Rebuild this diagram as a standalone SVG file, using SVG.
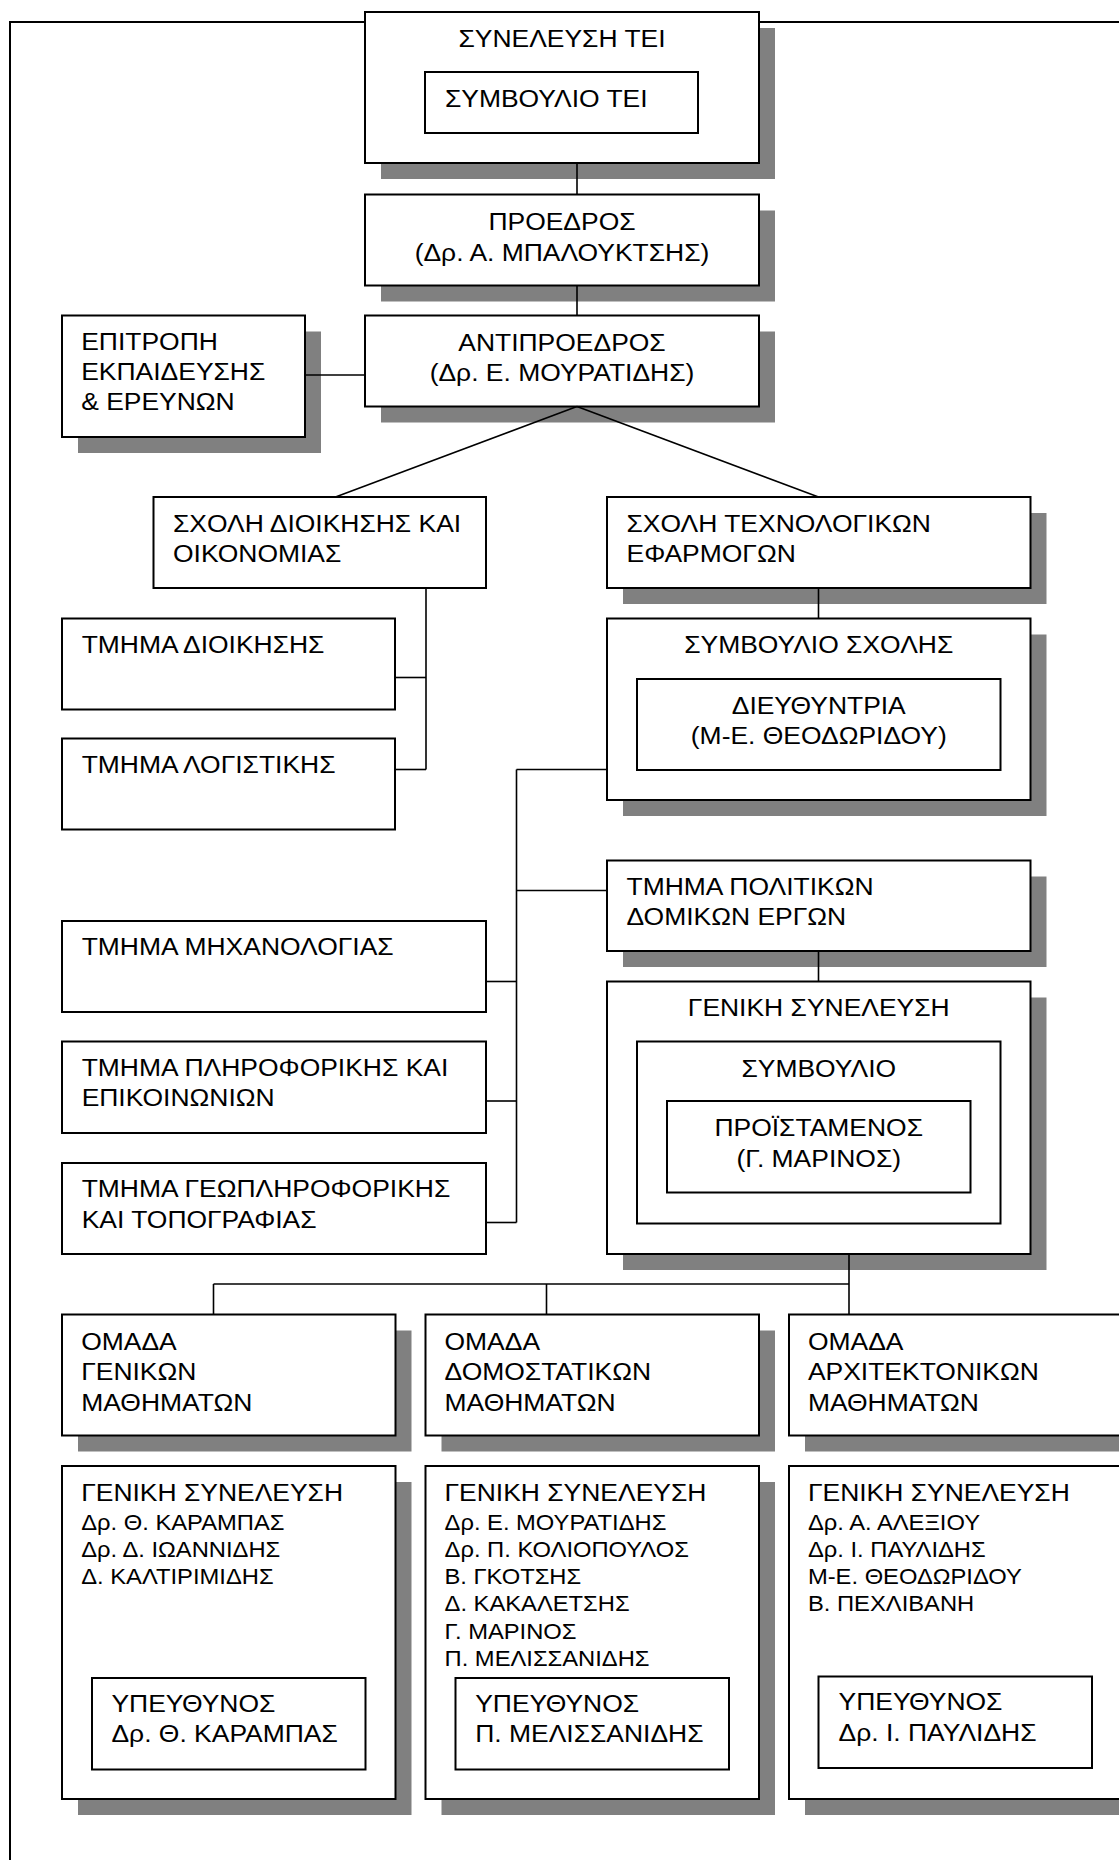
<svg xmlns="http://www.w3.org/2000/svg" width="1119" height="1860" viewBox="0 0 1119 1860">
<style>
.b{fill:#fff;stroke:#000;stroke-width:2}
.s{fill:#808080}
.t{font-family:"Liberation Sans",Arial,sans-serif;font-size:24.5px;fill:#000}
.n{font-family:"Liberation Sans",Arial,sans-serif;font-size:22px;fill:#000}
.c{text-anchor:middle}
#connectors line{stroke:#000;stroke-width:1.6}
</style>
<rect x="0" y="0" width="1119" height="1860" fill="#fff"/>
<rect id="frame" x="10" y="22" width="1200" height="1900" fill="none" stroke="#000" stroke-width="2"/>

<g id="synelefsi-tei">
<rect class="s" x="381" y="28" width="394" height="151"/>
<rect class="b" x="365" y="12" width="394" height="151"/>
<rect class="b" x="425" y="72" width="273" height="61"/>
<g transform="scale(1.08 1)">
<text class="t c" x="520.37" y="47">ΣΥΝΕΛΕΥΣΗ ΤΕΙ</text>
<text class="t" x="412" y="107.5">ΣΥΜΒΟΥΛΙΟ ΤΕΙ</text>
</g>
</g>

<g id="proedros">
<rect class="s" x="381" y="210.5" width="394" height="91"/>
<rect class="b" x="365" y="194.5" width="394" height="91"/>
<g transform="scale(1.08 1)">
<text class="t c" x="520.37" y="230">ΠΡΟΕΔΡΟΣ</text>
<text class="t c" x="520.37" y="261">(Δρ. Α. ΜΠΑΛΟΥΚΤΣΗΣ)</text>
</g>
</g>

<g id="antiproedros">
<rect class="s" x="381" y="331.5" width="394" height="91"/>
<rect class="b" x="365" y="315.5" width="394" height="91"/>
<g transform="scale(1.08 1)">
<text class="t c" x="520.37" y="351">ΑΝΤΙΠΡΟΕΔΡΟΣ</text>
<text class="t c" x="520.37" y="381.5">(Δρ. Ε. ΜΟΥΡΑΤΙΔΗΣ)</text>
</g>
</g>

<g id="epitropi">
<rect class="s" x="78" y="331.5" width="243" height="121.5"/>
<rect class="b" x="62" y="315.5" width="243" height="121.5"/>
<g transform="scale(1.08 1)">
<text class="t" x="75.2" y="350.5">ΕΠΙΤΡΟΠΗ</text>
<text class="t" x="75.2" y="380.5">ΕΚΠΑΙΔΕΥΣΗΣ</text>
<text class="t" x="75.2" y="410.5">&amp; ΕΡΕΥΝΩΝ</text>
</g>
</g>

<g id="sxoli-dioikisis">
<rect class="b" x="153.5" y="497" width="332.5" height="91"/>
<g transform="scale(1.08 1)">
<text class="t" x="160.2" y="532">ΣΧΟΛΗ ΔΙΟΙΚΗΣΗΣ ΚΑΙ</text>
<text class="t" x="160.2" y="562.5">ΟΙΚΟΝΟΜΙΑΣ</text>
</g>
</g>

<g id="sxoli-texnologikon">
<rect class="s" x="623" y="513" width="423.5" height="91"/>
<rect class="b" x="607" y="497" width="423.5" height="91"/>
<g transform="scale(1.08 1)">
<text class="t" x="580.1" y="532">ΣΧΟΛΗ ΤΕΧΝΟΛΟΓΙΚΩΝ</text>
<text class="t" x="580.1" y="562.5">ΕΦΑΡΜΟΓΩΝ</text>
</g>
</g>

<g id="tmima-dioikisis">
<rect class="b" x="62" y="618.5" width="333" height="91"/>
<g transform="scale(1.08 1)">
<text class="t" x="75.6" y="653.5">ΤΜΗΜΑ ΔΙΟΙΚΗΣΗΣ</text>
</g>
</g>

<g id="tmima-logistikis">
<rect class="b" x="62" y="738.5" width="333" height="91"/>
<g transform="scale(1.08 1)">
<text class="t" x="75.6" y="773.5">ΤΜΗΜΑ ΛΟΓΙΣΤΙΚΗΣ</text>
</g>
</g>

<g id="symvoulio-sxolis">
<rect class="s" x="623" y="634.5" width="423.5" height="181.5"/>
<rect class="b" x="607" y="618.5" width="423.5" height="181.5"/>
<rect class="b" x="637" y="679" width="363.5" height="91"/>
<g transform="scale(1.08 1)">
<text class="t c" x="758.1" y="653.5">ΣΥΜΒΟΥΛΙΟ ΣΧΟΛΗΣ</text>
<text class="t c" x="758.1" y="714">ΔΙΕΥΘΥΝΤΡΙΑ</text>
<text class="t c" x="758.1" y="744.5">(Μ-Ε. ΘΕΟΔΩΡΙΔΟΥ)</text>
</g>
</g>

<g id="tmima-politikon">
<rect class="s" x="623" y="876.5" width="423.5" height="90.5"/>
<rect class="b" x="607" y="860.5" width="423.5" height="90.5"/>
<g transform="scale(1.08 1)">
<text class="t" x="580.1" y="895">ΤΜΗΜΑ ΠΟΛΙΤΙΚΩΝ</text>
<text class="t" x="580.1" y="925.5">ΔΟΜΙΚΩΝ ΕΡΓΩΝ</text>
</g>
</g>

<g id="tmima-mixanologias">
<rect class="b" x="62" y="921" width="424" height="91"/>
<g transform="scale(1.08 1)">
<text class="t" x="75.6" y="955.5">ΤΜΗΜΑ ΜΗΧΑΝΟΛΟΓΙΑΣ</text>
</g>
</g>

<g id="tmima-pliroforikis">
<rect class="b" x="62" y="1041.5" width="424" height="91.5"/>
<g transform="scale(1.08 1)">
<text class="t" x="75.6" y="1076">ΤΜΗΜΑ ΠΛΗΡΟΦΟΡΙΚΗΣ ΚΑΙ</text>
<text class="t" x="75.6" y="1106.5">ΕΠΙΚΟΙΝΩΝΙΩΝ</text>
</g>
</g>

<g id="tmima-geopliroforikis">
<rect class="b" x="62" y="1163" width="424" height="91"/>
<g transform="scale(1.08 1)">
<text class="t" x="75.6" y="1197.5">ΤΜΗΜΑ ΓΕΩΠΛΗΡΟΦΟΡΙΚΗΣ</text>
<text class="t" x="75.6" y="1228">ΚΑΙ ΤΟΠΟΓΡΑΦΙΑΣ</text>
</g>
</g>

<g id="geniki-synelefsi">
<rect class="s" x="623" y="997.5" width="423.5" height="272.5"/>
<rect class="b" x="607" y="981.5" width="423.5" height="272.5"/>
<rect class="b" x="637" y="1041.5" width="363.5" height="182"/>
<rect class="b" x="667" y="1101" width="303.5" height="91.5"/>
<g transform="scale(1.08 1)">
<text class="t c" x="758.1" y="1016.5">ΓΕΝΙΚΗ ΣΥΝΕΛΕΥΣΗ</text>
<text class="t c" x="758.1" y="1077">ΣΥΜΒΟΥΛΙΟ</text>
<text class="t c" x="758.1" y="1136.5">ΠΡΟΪΣΤΑΜΕΝΟΣ</text>
<text class="t c" x="758.1" y="1167">(Γ. ΜΑΡΙΝΟΣ)</text>
</g>
</g>

<g id="omada-genikon">
<rect class="s" x="78" y="1330.5" width="333.5" height="121"/>
<rect class="b" x="62" y="1314.5" width="333.5" height="121"/>
<g transform="scale(1.08 1)">
<text class="t" x="75.2" y="1350">ΟΜΑΔΑ</text>
<text class="t" x="75.2" y="1380.5">ΓΕΝΙΚΩΝ</text>
<text class="t" x="75.2" y="1411">ΜΑΘΗΜΑΤΩΝ</text>
</g>
</g>

<g id="omada-domostatikon">
<rect class="s" x="441.5" y="1330.5" width="333.5" height="121"/>
<rect class="b" x="425.5" y="1314.5" width="333.5" height="121"/>
<g transform="scale(1.08 1)">
<text class="t" x="411.6" y="1350">ΟΜΑΔΑ</text>
<text class="t" x="411.6" y="1380.5">ΔΟΜΟΣΤΑΤΙΚΩΝ</text>
<text class="t" x="411.6" y="1411">ΜΑΘΗΜΑΤΩΝ</text>
</g>
</g>

<g id="omada-arxitektonikon">
<rect class="s" x="805" y="1330.5" width="333.5" height="121"/>
<rect class="b" x="789" y="1314.5" width="333.5" height="121"/>
<g transform="scale(1.08 1)">
<text class="t" x="748.1" y="1350">ΟΜΑΔΑ</text>
<text class="t" x="748.1" y="1380.5">ΑΡΧΙΤΕΚΤΟΝΙΚΩΝ</text>
<text class="t" x="748.1" y="1411">ΜΑΘΗΜΑΤΩΝ</text>
</g>
</g>

<g id="gs-genikon">
<rect class="s" x="78" y="1482" width="333.5" height="333"/>
<rect class="b" x="62" y="1466" width="333.5" height="333"/>
<rect class="b" x="92" y="1678" width="273.5" height="91.5"/>
<g transform="scale(1.08 1)">
<text class="t" x="75.2" y="1501.5">ΓΕΝΙΚΗ ΣΥΝΕΛΕΥΣΗ</text>
<text class="n" x="75.2" y="1530">Δρ. Θ. ΚΑΡΑΜΠΑΣ</text>
<text class="n" x="75.2" y="1557.5">Δρ. Δ. ΙΩΑΝΝΙΔΗΣ</text>
<text class="n" x="75.2" y="1584.5">Δ. ΚΑΛΤΙΡΙΜΙΔΗΣ</text>
<text class="t" x="103.2" y="1712">ΥΠΕΥΘΥΝΟΣ</text>
<text class="t" x="103.2" y="1742.5">Δρ. Θ. ΚΑΡΑΜΠΑΣ</text>
</g>
</g>

<g id="gs-domostatikon">
<rect class="s" x="441.5" y="1482" width="333.5" height="333"/>
<rect class="b" x="425.5" y="1466" width="333.5" height="333"/>
<rect class="b" x="455.5" y="1678" width="273.5" height="91.5"/>
<g transform="scale(1.08 1)">
<text class="t" x="411.6" y="1501.5">ΓΕΝΙΚΗ ΣΥΝΕΛΕΥΣΗ</text>
<text class="n" x="411.6" y="1530">Δρ. Ε. ΜΟΥΡΑΤΙΔΗΣ</text>
<text class="n" x="411.6" y="1557.5">Δρ. Π. ΚΟΛΙΟΠΟΥΛΟΣ</text>
<text class="n" x="411.6" y="1584.5">Β. ΓΚΟΤΣΗΣ</text>
<text class="n" x="411.6" y="1611.5">Δ. ΚΑΚΑΛΕΤΣΗΣ</text>
<text class="n" x="411.6" y="1639">Γ. ΜΑΡΙΝΟΣ</text>
<text class="n" x="411.6" y="1666.5">Π. ΜΕΛΙΣΣΑΝΙΔΗΣ</text>
<text class="t" x="440" y="1712">ΥΠΕΥΘΥΝΟΣ</text>
<text class="t" x="440" y="1742.5">Π. ΜΕΛΙΣΣΑΝΙΔΗΣ</text>
</g>
</g>

<g id="gs-arxitektonikon">
<rect class="s" x="805" y="1482" width="333.5" height="333"/>
<rect class="b" x="789" y="1466" width="333.5" height="333"/>
<rect class="b" x="818.5" y="1676.5" width="273.5" height="91.5"/>
<g transform="scale(1.08 1)">
<text class="t" x="748.1" y="1501.5">ΓΕΝΙΚΗ ΣΥΝΕΛΕΥΣΗ</text>
<text class="n" x="748.1" y="1530">Δρ. Α. ΑΛΕΞΙΟΥ</text>
<text class="n" x="748.1" y="1557.5">Δρ. Ι. ΠΑΥΛΙΔΗΣ</text>
<text class="n" x="748.1" y="1584.5">Μ-Ε. ΘΕΟΔΩΡΙΔΟΥ</text>
<text class="n" x="748.1" y="1611.5">Β. ΠΕΧΛΙΒΑΝΗ</text>
<text class="t" x="776.4" y="1710.5">ΥΠΕΥΘΥΝΟΣ</text>
<text class="t" x="776.4" y="1741">Δρ. Ι. ΠΑΥΛΙΔΗΣ</text>
</g>
</g>

<g id="connectors">
<line x1="577" y1="163" x2="577" y2="194.5"/>
<line x1="577" y1="285.5" x2="577" y2="315.5"/>
<line x1="305" y1="375" x2="365" y2="375"/>
<line x1="577" y1="406.5" x2="335.5" y2="497"/>
<line x1="577" y1="406.5" x2="818.5" y2="497"/>
<line x1="426" y1="588" x2="426" y2="769.5"/>
<line x1="395" y1="677.5" x2="426" y2="677.5"/>
<line x1="395" y1="769.5" x2="426" y2="769.5"/>
<line x1="818.5" y1="588" x2="818.5" y2="618.5"/>
<line x1="516.5" y1="769.5" x2="516.5" y2="1222.5"/>
<line x1="516.5" y1="769.5" x2="607" y2="769.5"/>
<line x1="516.5" y1="890.5" x2="607" y2="890.5"/>
<line x1="486" y1="981.5" x2="516.5" y2="981.5"/>
<line x1="486" y1="1101" x2="516.5" y2="1101"/>
<line x1="486" y1="1222.5" x2="516.5" y2="1222.5"/>
<line x1="818.5" y1="951" x2="818.5" y2="981.5"/>
<line x1="849" y1="1254" x2="849" y2="1314.5"/>
<line x1="213.5" y1="1284" x2="849" y2="1284"/>
<line x1="213.5" y1="1284" x2="213.5" y2="1314.5"/>
<line x1="546.5" y1="1284" x2="546.5" y2="1314.5"/>
</g>
</svg>
